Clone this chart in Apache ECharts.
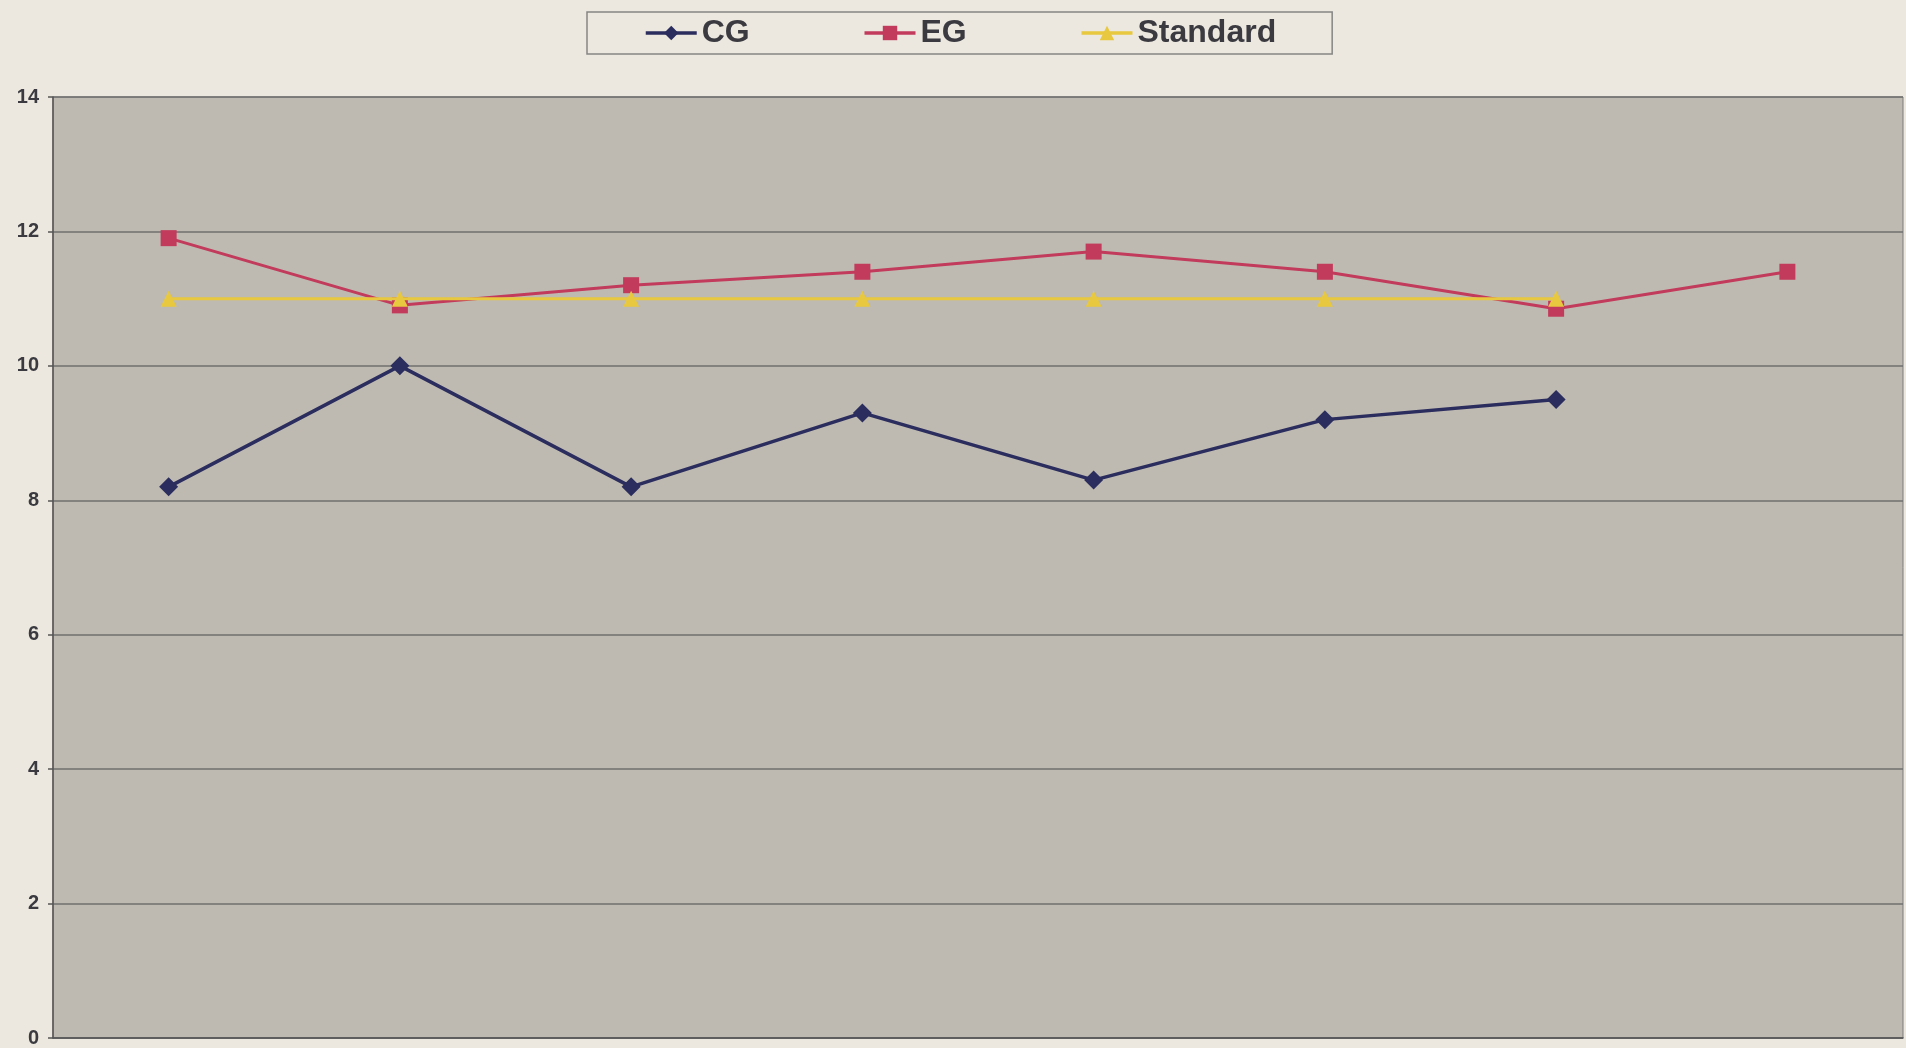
<!DOCTYPE html>
<html>
<head>
<meta charset="utf-8">
<script src="https://cdn.jsdelivr.net/npm/echarts@6/dist/echarts.min.js"></script>
<style>
  html, body { margin: 0; padding: 0; background: #ece8df; }
  #chart { width: 1906px; height: 1048px; }
</style>
</head>
<body>
<div id="chart"></div>
<script>
// Measurement points along the x axis
const categories = ['1', '2', '3', '4', '5', '6', '7', '8'];
// Series values
const cgValues = [8.2, 10.0, 8.2, 9.3, 8.3, 9.2, 9.5, null];
const egValues = [11.9, 10.9, 11.2, 11.4, 11.7, 11.4, 10.85, 11.4];
const standardValues = [11, 11, 11, 11, 11, 11, 11, null];
// Y axis range
const yMin = 0, yMax = 14, yStep = 2;

const chart = echarts.init(document.getElementById('chart'), null, { renderer: 'canvas' });

chart.setOption({
  backgroundColor: '#ece8df',
  animation: false,
  legend: {
    top: 12,
    left: 587,
    padding: [5, 56, 5, 57],
    itemGap: 113,
    itemWidth: 51,
    itemHeight: 18,
    borderColor: '#858585',
    borderWidth: 1.5,
    lineStyle: { width: 3.5 },
    textStyle: { fontFamily: 'Liberation Sans, Arial, sans-serif', fontWeight: 'bold', fontSize: 32, color: '#3a3a40' },
    data: ['CG', 'EG', 'Standard']
  },
  grid: {
    left: 53, right: 3, top: 97, bottom: 6,
    show: true,
    backgroundColor: '#bfbab1',
    borderColor: '#7a7a7a',
    borderWidth: 1
  },
  xAxis: {
    type: 'category',
    data: categories,
    boundaryGap: true,
    axisLine: { lineStyle: { color: '#555', width: 1.5 } },
    axisTick: { show: false },
    axisLabel: { show: false },
    splitLine: { show: false }
  },
  yAxis: {
    type: 'value',
    min: yMin, max: yMax, interval: yStep,
    axisLine: { show: true, lineStyle: { color: '#555', width: 1.5 } },
    axisTick: { show: true, length: 5, lineStyle: { color: '#555', width: 1.5 } },
    axisLabel: { margin: 14, fontFamily: 'Liberation Sans, Arial, sans-serif', fontWeight: 'bold', fontSize: 20, color: '#3a3a40' },
    splitLine: { show: true, lineStyle: { color: '#6f6f6f', width: 1.5 } }
  },
  series: [
    {
      name: 'CG', type: 'line', data: cgValues,
      symbol: 'diamond', symbolSize: 19,
      lineStyle: { color: '#2b2d5e', width: 3.5 },
      itemStyle: { color: '#2b2d5e' },
      z: 3
    },
    {
      name: 'EG', type: 'line', data: egValues,
      symbol: 'rect', symbolSize: 16,
      lineStyle: { color: '#c23a5c', width: 3 },
      itemStyle: { color: '#c23a5c' },
      z: 2
    },
    {
      name: 'Standard', type: 'line', data: standardValues,
      symbol: 'triangle', symbolSize: 16,
      lineStyle: { color: '#e8c83e', width: 3 },
      itemStyle: { color: '#e8c83e' },
      z: 4
    }
  ]
});
</script>
</body>
</html>
